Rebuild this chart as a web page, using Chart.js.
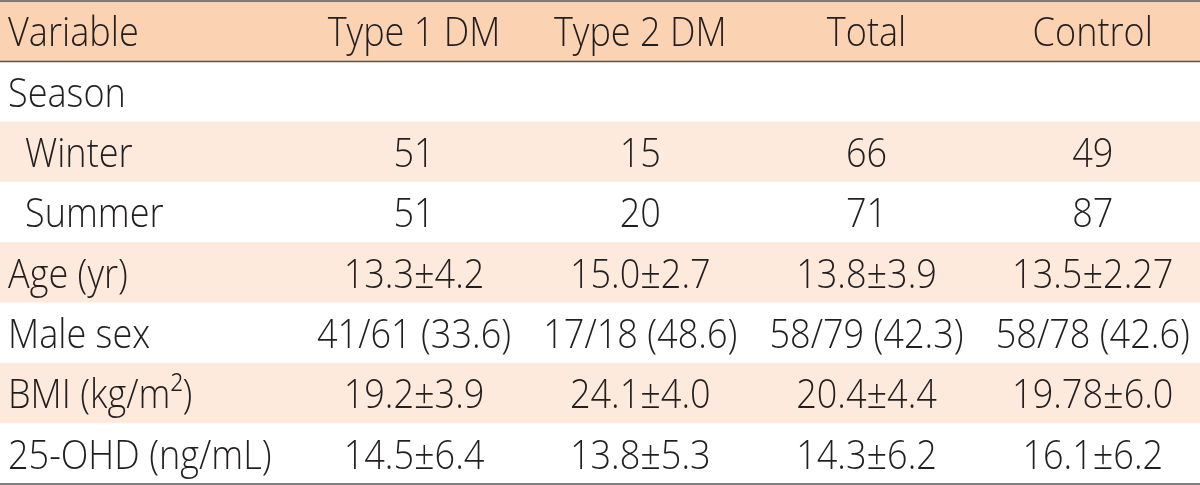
<!DOCTYPE html>
<html lang="en">
<head>
  <meta charset="UTF-8"/>
  <title>Season table</title>
  <script src="https://cdn.jsdelivr.net/npm/chart.js"></script>
  <style>
    html, body { margin: 0; padding: 0; background: #fff; }
    #wrap { width: 1200px; height: 485px; }
  </style>
</head>
<body>
  <div id="wrap"><canvas id="tbl"></canvas></div>

  <script>
    // table content
    const rowLabels = ['Variable', 'Season', 'Winter', 'Summer', 'Age (yr)', 'Male sex', 'BMI (kg/m²)', '25-OHD (ng/mL)'];
    const indented = [false, false, true, true, false, false, false, false];
    const groups = ['Type 1 DM', 'Type 2 DM', 'Total', 'Control'];
    const type1 = ['', '51', '51', '13.3±4.2', '41/61 (33.6)', '19.2±3.9', '14.5±6.4'];
    const type2 = ['', '15', '20', '15.0±2.7', '17/18 (48.6)', '24.1±4.0', '13.8±5.3'];
    const total = ['', '66', '71', '13.8±3.9', '58/79 (42.3)', '20.4±4.4', '14.3±6.2'];
    const control = ['', '49', '87', '13.5±2.27', '58/78 (42.6)', '19.78±6.0', '16.1±6.2'];
    const columns = [type1, type2, total, control];

    const headFill = '#fcd3b2';
    const stripeFill = '#fdeadd';
    const rowFill = ['head', 'none', 'stripe', 'none', 'stripe', 'none', 'stripe', 'none'];

    const X_MIN = -0.83, X_MAX = 4.474;
    const FONT = '300 41px "Open Sans"';
    const SQUEEZE = 0.88; // the original face is narrower than Open Sans
    const ink = '#231f20';

    function put(ctx, str, px, py, align) {
      ctx.save();
      ctx.translate(px, py);
      ctx.scale(SQUEEZE, 1);
      ctx.textAlign = align;
      ctx.fillText(str, 0, 0);
      ctx.restore();
    }

    const tablePlugin = {
      id: 'tableText',
      afterDatasetsDraw(chart) {
        const { ctx, chartArea: a, scales: { x, y } } = chart;
        ctx.save();
        ctx.fillStyle = ink;
        ctx.font = FONT;
        ctx.textBaseline = 'alphabetic';
        rowLabels.forEach((lab, r) => {
          const yy = y.getPixelForValue(r) + 15;
          put(ctx, lab, a.left + (indented[r] ? 25 : 8), yy, 'left');
          if (r === 0) {
            groups.forEach((g, c) => put(ctx, g, x.getPixelForValue(c + 1), yy, 'center'));
          } else {
            columns.forEach((col, c) => {
              if (col[r - 1]) put(ctx, col[r - 1], x.getPixelForValue(c + 1), yy, 'center');
            });
          }
        });
        // rules: top, under header, bottom
        ctx.strokeStyle = '#555';
        ctx.lineWidth = 1.5;
        const rowH = y.getPixelForValue(1) - y.getPixelForValue(0);
        [a.top, y.getPixelForValue(0) + rowH / 2, a.bottom].forEach(py => {
          ctx.beginPath();
          ctx.moveTo(a.left, py);
          ctx.lineTo(a.right, py);
          ctx.stroke();
        });
        ctx.restore();
      }
    };

    new Chart(document.getElementById('tbl'), {
      type: 'bar',
      data: {
        labels: rowLabels,
        datasets: [{
          data: rowLabels.map(() => [X_MIN, X_MAX]),
          backgroundColor: rowFill.map(f => f === 'head' ? headFill : f === 'stripe' ? stripeFill : '#ffffff'),
          borderWidth: 0,
          barPercentage: 1,
          categoryPercentage: 1
        }]
      },
      options: {
        indexAxis: 'y',
        responsive: true,
        maintainAspectRatio: false,
        animation: false,
        layout: { padding: { top: 1, bottom: 1, left: 0, right: 0 } },
        scales: {
          x: { type: 'linear', min: X_MIN, max: X_MAX, display: false },
          y: { type: 'category', display: false, offset: true }
        },
        plugins: { legend: { display: false }, tooltip: { enabled: false } }
      },
      plugins: [tablePlugin]
    });
  </script>
</body>
</html>
